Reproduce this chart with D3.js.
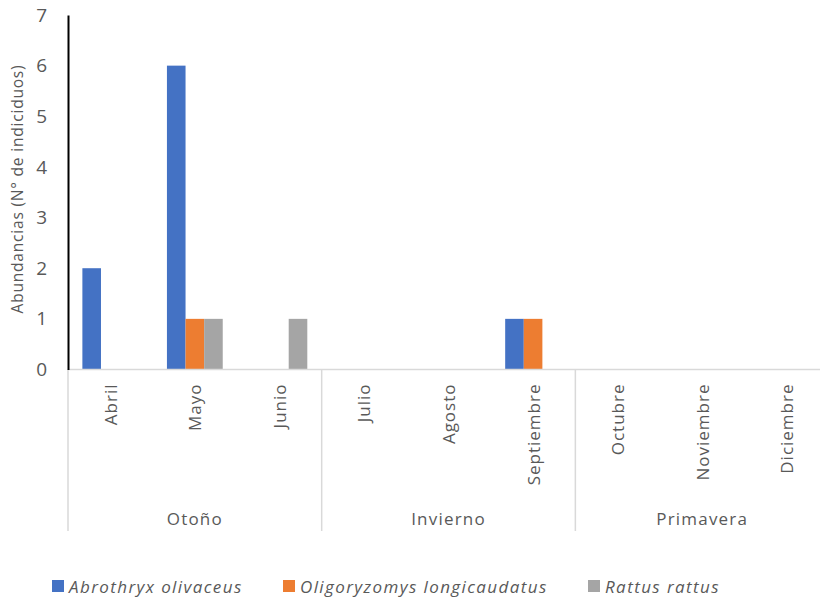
<!DOCTYPE html>
<html>
<head>
<meta charset="utf-8">
<script src="https://cdn.jsdelivr.net/npm/d3@7"></script>
<style>
  body { margin: 0; background: #fff; }
  text { font-family: "Open Sans", "Noto Sans", sans-serif; fill: #595959; }
</style>
</head>
<body>
<div id="chart"></div>
<script>
// Data
let months = ["Abril", "Mayo", "Junio", "Julio", "Agosto", "Septiembre", "Octubre", "Noviembre", "Diciembre"];
let seasons = ["Otoño", "Invierno", "Primavera"];
let seasonMonths = [
  ["Abril", "Mayo", "Junio"],
  ["Julio", "Agosto", "Septiembre"],
  ["Octubre", "Noviembre", "Diciembre"]
];
let seriesNames = ["Abrothryx olivaceus", "Oligoryzomys longicaudatus", "Rattus rattus"];
let abrothryx = [2, 6, 0, 0, 0, 1, 0, 0, 0];
let oligoryzomys = [0, 1, 0, 0, 0, 1, 0, 0, 0];
let rattus = [0, 1, 1, 0, 0, 0, 0, 0, 0];
let yTicks = [0, 1, 2, 3, 4, 5, 6, 7];

let colors = ["#4472C4", "#ED7D31", "#A5A5A5"];
let seriesValues = [abrothryx, oligoryzomys, rattus];

let chart_width = 820;
let chart_height = 603;
let left = 68;
let top_y = 15;
let base_y = 369.5;

let svg = d3.select('#chart')
  .append('svg')
  .attr('width', chart_width)
  .attr('height', chart_height);

// Scales
let x0 = d3.scaleBand()
  .domain(months)
  .range([left, left + 9 * 84.56])
  .paddingInner(0)
  .paddingOuter(0);

let x1 = d3.scaleBand()
  .domain(seriesNames)
  .range([0, x0.bandwidth()])
  .paddingInner(0)
  .paddingOuter(0.773);

let y = d3.scaleLinear()
  .domain([0, 7])
  .range([base_y, top_y]);

// Bars
let rows = [];
months.forEach((m, i) => {
  seriesNames.forEach((s, j) => {
    rows.push({ month: m, series: s, value: seriesValues[j][i], color: colors[j] });
  });
});

svg.append('g')
  .selectAll('rect')
  .data(rows.filter(d => d.value > 0))
  .enter()
  .append('rect')
  .attr('x', d => x0(d.month) + x1(d.series))
  .attr('y', d => y(d.value))
  .attr('width', x1.bandwidth())
  .attr('height', d => y(0) - y(d.value))
  .attr('fill', d => d.color);

// Baseline (category axis)
svg.append('line')
  .attr('x1', left)
  .attr('x2', chart_width)
  .attr('y1', y(0))
  .attr('y2', y(0))
  .attr('stroke', '#d9d9d9')
  .attr('stroke-width', 1.5);

// Season separators
let sepBottom = 531;
let boundaries = [left].concat(seasonMonths.map(g => x0(g[g.length - 1]) + x0.bandwidth()));
svg.append('g')
  .selectAll('line')
  .data(boundaries)
  .enter()
  .append('line')
  .attr('x1', d => d)
  .attr('x2', d => d)
  .attr('y1', y(0))
  .attr('y2', sepBottom)
  .attr('stroke', '#d9d9d9')
  .attr('stroke-width', 1.5);

// Month labels (rotated)
svg.append('g')
  .selectAll('text')
  .data(months)
  .enter()
  .append('text')
  .attr('text-anchor', 'end')
  .attr('dominant-baseline', 'central')
  .style('font-size', '17px')
  .style('letter-spacing', '1px')
  .attr('transform', d => 'translate(' + (x0(d) + x0.bandwidth() / 2) + ',' + (y(0) + 14) + ')rotate(-90)')
  .text(d => d);

// Season labels
svg.append('g')
  .selectAll('text')
  .data(seasons)
  .enter()
  .append('text')
  .attr('text-anchor', 'middle')
  .style('font-size', '17px')
  .style('letter-spacing', '1.2px')
  .attr('x', (d, i) => {
    let g = seasonMonths[i];
    return (x0(g[0]) + x0(g[g.length - 1]) + x0.bandwidth()) / 2;
  })
  .attr('y', 525)
  .text(d => d);

// Y axis
let y_axis = d3.axisLeft(y)
  .tickValues(yTicks)
  .tickSize(0)
  .tickPadding(21)
  .tickFormat(d3.format('d'));
let yg = svg.append('g')
  .attr('transform', 'translate(' + left + ',0)')
  .call(y_axis);
yg.select('.domain')
  .attr('stroke', '#000')
  .attr('stroke-width', 2);
yg.selectAll('text')
  .style('font-size', '19px')
  .style('font-family', '"Open Sans", sans-serif')
  .attr('fill', '#595959');

// Y axis title
svg.append('text')
  .style('font-size', '15.5px')
  .style('letter-spacing', '0.8px')
  .attr('text-anchor', 'middle')
  .attr('transform', 'translate(' + 23 + ',' + 189 + ')rotate(-90)')
  .text('Abundancias (N° de indiciduos)');

// Legend
let legendX = [52, 283, 588];
let legend = svg.append('g');
seriesNames.forEach((s, i) => {
  legend.append('rect')
    .attr('x', legendX[i])
    .attr('y', 580)
    .attr('width', 12)
    .attr('height', 12)
    .attr('fill', colors[i]);
  legend.append('text')
    .attr('x', legendX[i] + 17)
    .attr('y', 586)
    .attr('dominant-baseline', 'central')
    .style('font-size', '17px')
    .style('letter-spacing', '1.4px')
    .style('font-style', 'italic')
    .text(s);
});
</script>
</body>
</html>
